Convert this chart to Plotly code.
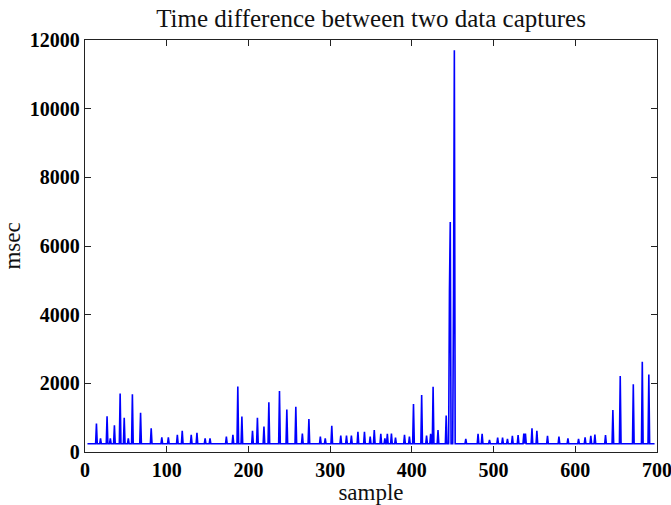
import plotly.graph_objects as go

N_SAMPLES = 697
BASELINE = 240

# spikes: sample index -> msec
spike_samples = [14, 19, 27, 31, 36, 43, 48, 53, 58, 68, 81, 94, 102, 113, 119, 130, 137, 147, 153,
                 173, 181, 187, 192, 205, 211, 219, 225, 238, 247, 258, 266, 274, 288, 294, 302,
                 313, 320, 326, 334, 342, 349, 354, 362, 367, 370, 375, 380, 391, 397, 402, 412,
                 418, 423, 426, 432, 442, 446, 447, 451, 452, 466, 481, 486, 495, 505, 511, 517,
                 523, 530, 537, 539, 547, 553, 566, 580, 591, 604, 612, 619, 624, 637, 646, 655,
                 671, 682, 690]
spike_values = [830, 400, 1040, 400, 780, 1700, 1000, 400, 1680, 1140, 690, 430, 430, 500, 620, 500,
                560, 400, 400, 450, 500, 1910, 1030, 620, 1000, 740, 1450, 1780, 1240, 1320, 540,
                960, 450, 400, 760, 480, 480, 480, 590, 590, 450, 640, 530, 400, 530, 540, 420,
                500, 450, 1400, 1660, 480, 530, 1900, 640, 1060, 4700, 6700, 4550, 11700, 380, 530,
                530, 350, 420, 420, 380, 470, 490, 540, 540, 690, 620, 470, 450, 400, 380, 430,
                470, 510, 490, 1220, 2210, 1970, 2630, 2260]

x_ticks = [0, 100, 200, 300, 400, 500, 600, 700]
y_ticks = [0, 2000, 4000, 6000, 8000, 10000, 12000]

samples = list(range(3, N_SAMPLES + 1))
values = [BASELINE] * len(samples)
for s, v in zip(spike_samples, spike_values):
    values[s - 3] = v

fig = go.Figure(go.Scatter(x=samples, y=values, mode="lines",
                           line=dict(color="#0000ff", width=1.6)))

axis_common = dict(showgrid=False, zeroline=False, showline=True, linecolor="#222", linewidth=1.4,
                   mirror="ticks", ticks="inside", ticklen=6, tickcolor="#222", tickwidth=1.4,
                   automargin=False, ticklabeloverflow="allow",
                   tickfont=dict(family="Liberation Serif", size=20, color="black", weight="bold"))

fig.update_layout(
    width=671, height=505,
    margin=dict(l=85, r=14, t=40, b=53),
    paper_bgcolor="white", plot_bgcolor="white",
    showlegend=False,
    title=dict(text="Time difference between two data captures", x=0.553, xanchor="center",
               y=0.963, yanchor="middle",
               font=dict(family="Liberation Serif", size=25, color="#111")),
    xaxis=dict(range=[0, 700], tickvals=x_ticks, ticktext=[str(v) for v in x_ticks],
               title=dict(text="sample", standoff=2,
                          font=dict(family="Liberation Serif", size=23, color="#111")),
               **axis_common),
    yaxis=dict(range=[0, 12000], tickvals=y_ticks, ticktext=[str(v) for v in y_ticks],
               title=dict(text="msec", standoff=4,
                          font=dict(family="Liberation Serif", size=23, color="#111")),
               **axis_common),
)

fig.write_html("out.html")
